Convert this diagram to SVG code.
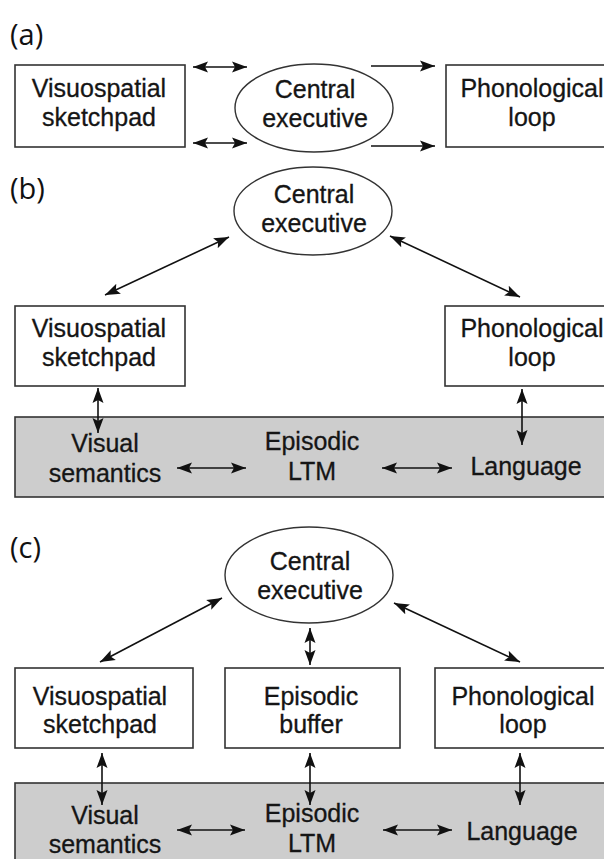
<svg xmlns="http://www.w3.org/2000/svg" width="604" height="859" viewBox="0 0 604 859">
<defs>
<marker id="ah" markerUnits="userSpaceOnUse" markerWidth="16" markerHeight="12" refX="15" refY="6" orient="auto-start-reverse" viewBox="0 0 16 12">
<path d="M0,0.5 L15,6 L0,11.5 L3,6 z" fill="#111"/>
</marker>
</defs>
<style>
.box{fill:#fff;stroke:#333;stroke-width:1.6}
.band{fill:#cdcdcd;stroke:#333;stroke-width:1.6}
.ell{fill:#fff;stroke:#333;stroke-width:1.4}
.t{font-family:'Liberation Sans',Arimo,Arial,Helvetica,sans-serif;font-size:25px;fill:#151515;stroke:#151515;stroke-width:0.3;text-anchor:middle}
.lbl{font-family:'Open Sans','Noto Sans',sans-serif;font-size:29px;fill:#111}
.c{stroke:#111;stroke-width:1.6;fill:none;marker-start:url(#ah);marker-end:url(#ah)}
.c1{stroke:#111;stroke-width:1.6;fill:none;marker-end:url(#ah)}
</style>
<rect width="604" height="859" fill="#fff"/>

<!-- Panel a -->
<text class="lbl" x="10" y="45">(a)</text>
<g id="a-vss">
<rect class="box" x="15" y="65" width="170" height="82"/>
<text class="t" x="99" y="97">Visuospatial</text>
<text class="t" x="99" y="126">sketchpad</text>
</g>
<g id="a-ce">
<ellipse class="ell" cx="314" cy="108" rx="79" ry="44"/>
<text class="t" x="315" y="98">Central</text>
<text class="t" x="315" y="127">executive</text>
</g>
<g id="a-pl">
<rect class="box" x="446" y="65" width="170" height="82"/>
<text class="t" x="532" y="97">Phonological</text>
<text class="t" x="532" y="126">loop</text>
</g>
<g id="a-connectors">
<line class="c" x1="193" y1="67" x2="247" y2="67"/>
<line class="c" x1="193" y1="143" x2="247" y2="143"/>
<line class="c1" x1="371" y1="66" x2="435" y2="66"/>
<line class="c1" x1="371" y1="146" x2="435" y2="146"/>
</g>

<!-- Panel b -->
<text class="lbl" x="10" y="199">(b)</text>
<g id="b-band">
<rect class="band" x="15" y="417" width="600" height="80"/>
</g>
<g id="b-ce">
<ellipse class="ell" cx="313" cy="211" rx="79" ry="44"/>
<text class="t" x="314" y="203">Central</text>
<text class="t" x="314" y="232">executive</text>
</g>
<g id="b-vss">
<rect class="box" x="15" y="306" width="170" height="80"/>
<text class="t" x="99" y="337">Visuospatial</text>
<text class="t" x="99" y="366">sketchpad</text>
</g>
<g id="b-pl">
<rect class="box" x="445" y="306" width="170" height="80"/>
<text class="t" x="532" y="337">Phonological</text>
<text class="t" x="532" y="366">loop</text>
</g>
<g id="b-vs">
<text class="t" x="105" y="452">Visual</text>
<text class="t" x="105" y="482">semantics</text>
</g>
<g id="b-ltm">
<text class="t" x="312" y="450">Episodic</text>
<text class="t" x="312" y="480">LTM</text>
</g>
<g id="b-lang">
<text class="t" x="526" y="475">Language</text>
</g>
<g id="b-connectors">
<line class="c" x1="105" y1="295" x2="229" y2="237"/>
<line class="c" x1="390" y1="236" x2="520" y2="297"/>
<line class="c" x1="98" y1="388" x2="98" y2="433"/>
<line class="c" x1="522" y1="389" x2="522" y2="445"/>
<line class="c" x1="177" y1="468" x2="246" y2="468"/>
<line class="c" x1="382" y1="468" x2="452" y2="468"/>
</g>

<!-- Panel c -->
<text class="lbl" x="10" y="558">(c)</text>
<g id="c-band">
<rect class="band" x="15" y="783" width="600" height="90"/>
</g>
<g id="c-ce">
<ellipse class="ell" cx="309" cy="575" rx="84" ry="48"/>
<text class="t" x="310" y="570">Central</text>
<text class="t" x="310" y="599">executive</text>
</g>
<g id="c-vss">
<rect class="box" x="15" y="668" width="178" height="80"/>
<text class="t" x="100" y="705">Visuospatial</text>
<text class="t" x="100" y="733">sketchpad</text>
</g>
<g id="c-eb">
<rect class="box" x="225" y="668" width="175" height="80"/>
<text class="t" x="311" y="705">Episodic</text>
<text class="t" x="311" y="733">buffer</text>
</g>
<g id="c-pl">
<rect class="box" x="435" y="668" width="180" height="80"/>
<text class="t" x="523" y="705">Phonological</text>
<text class="t" x="523" y="733">loop</text>
</g>
<g id="c-vs">
<text class="t" x="105" y="824">Visual</text>
<text class="t" x="105" y="853">semantics</text>
</g>
<g id="c-ltm">
<text class="t" x="312" y="822">Episodic</text>
<text class="t" x="312" y="852">LTM</text>
</g>
<g id="c-lang">
<text class="t" x="522" y="840">Language</text>
</g>
<g id="c-connectors">
<line class="c" x1="100" y1="662" x2="222" y2="598"/>
<line class="c" x1="394" y1="603" x2="520" y2="662"/>
<line class="c" x1="310" y1="628" x2="310" y2="665"/>
<line class="c" x1="102" y1="753" x2="102" y2="805"/>
<line class="c" x1="310" y1="753" x2="310" y2="805"/>
<line class="c" x1="520" y1="753" x2="520" y2="805"/>
<line class="c" x1="177" y1="830" x2="245" y2="830"/>
<line class="c" x1="383" y1="830" x2="452" y2="830"/>
</g>
</svg>
